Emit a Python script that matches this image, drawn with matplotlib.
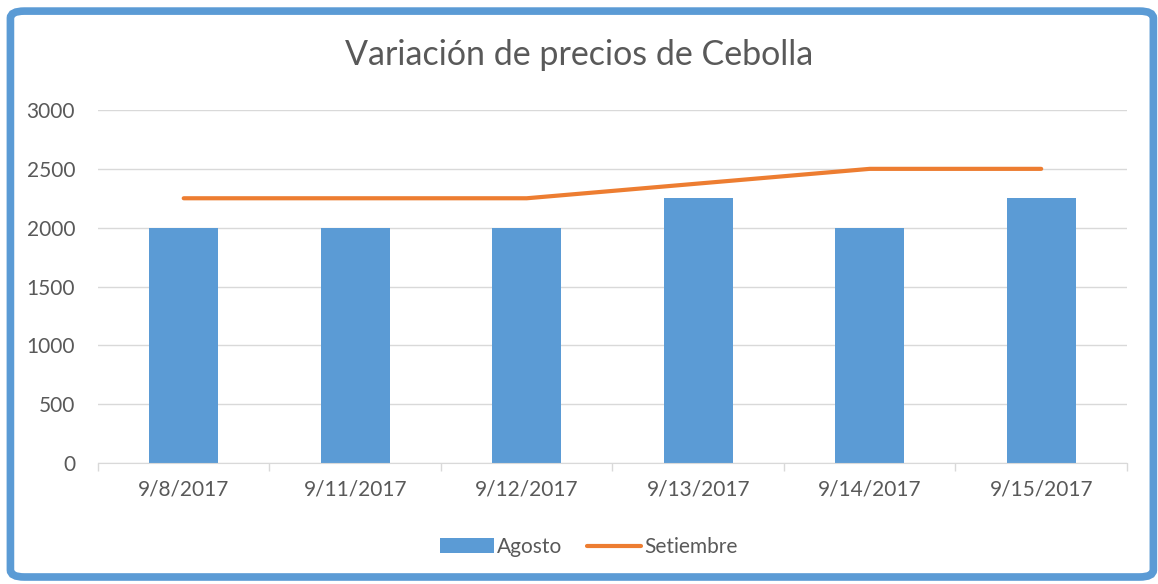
import numpy as np
import matplotlib.pyplot as plt
from matplotlib.patches import FancyBboxPatch

plt.rcParams['font.family'] = ['Lato', 'DejaVu Sans']

fechas = ['9/8/2017', '9/11/2017', '9/12/2017', '9/13/2017', '9/14/2017', '9/15/2017']
agosto = [2000, 2000, 2000, 2250, 2000, 2250]
setiembre = [2250, 2250, 2250, 2375, 2500, 2500]

azul = '#5B9BD5'
naranja = '#ED7D31'
gris = '#595959'

fig = plt.figure(figsize=(11.58, 5.84), dpi=100)
ax = fig.add_axes([0.0846, 0.2072, 0.8886, 0.6044])

x = np.arange(len(fechas))
barras = ax.bar(x, agosto, width=0.4, color=azul, label='Agosto', zorder=2)
linea, = ax.plot(x, setiembre, color=naranja, linewidth=3, label='Setiembre', zorder=3,
                 solid_capstyle='round')

ax.set_xlim(-0.5, len(fechas) - 0.5)
ax.set_ylim(0, 3000)
ax.set_yticks(range(0, 3001, 500))
ax.set_xticks(x)
ax.set_xticklabels(fechas)
ax.set_xticks(np.arange(-0.5, len(fechas), 1), minor=True)
ax.tick_params(axis='x', which='major', length=0, pad=12, labelsize=15, labelcolor=gris)
ax.tick_params(axis='x', which='minor', length=6, color='#D9D9D9', width=1)
ax.tick_params(axis='y', length=0, pad=16.5, labelsize=15, labelcolor=gris)
ax.grid(axis='y', color='#D9D9D9', linewidth=1, zorder=0)
ax.set_axisbelow(True)
for s in ['top', 'right', 'left']:
    ax.spines[s].set_visible(False)
ax.spines['bottom'].set_color('#D9D9D9')

fig.text(0.5, 0.906, 'Variación de precios de Cebolla', ha='center', va='center',
         fontsize=24.5, color=gris)

leg = ax.legend([barras, linea], ['Agosto', 'Setiembre'], loc='center',
                bbox_to_anchor=(0.477, -0.238), ncol=2, frameon=False,
                fontsize=15, handlelength=2.6, handletextpad=0.15, columnspacing=1.2)
for t in leg.get_texts():
    t.set_color(gris)

borde = FancyBboxPatch((0.0090, 0.0120), 0.9870, 0.9690, boxstyle='round,pad=0,rounding_size=0.012',
                       transform=fig.transFigure, fill=False, edgecolor=azul, linewidth=5.5)
fig.patches.append(borde)

fig.savefig('out.png', dpi=100)
